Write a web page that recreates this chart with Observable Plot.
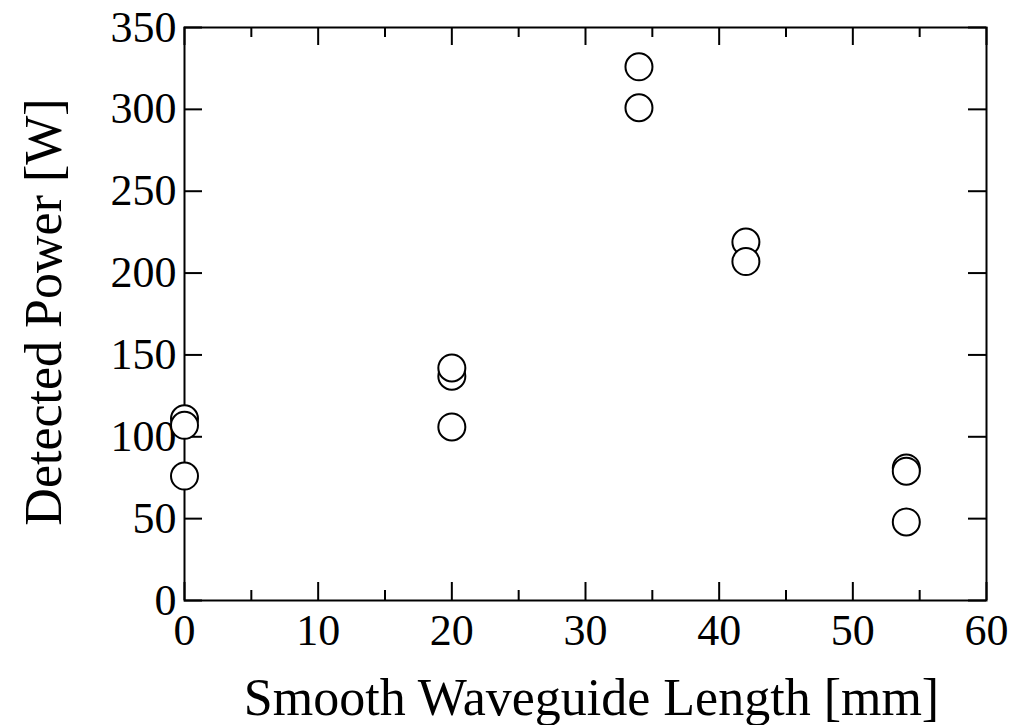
<!DOCTYPE html>
<html>
<head>
<meta charset="utf-8">
<script src="https://cdn.jsdelivr.net/npm/d3@7"></script>
<script src="https://cdn.jsdelivr.net/npm/@observablehq/plot@0.6"></script>
<style>
  html, body { margin: 0; padding: 0; background: white; }
</style>
</head>
<body>
<div id="chart"></div>
<script>
// Data
const lengthMm = [0, 0, 0, 20, 20, 20, 34, 34, 42, 42, 54, 54, 54];
const powerW   = [76, 111, 107, 106, 137, 142, 326, 301, 219, 207, 48, 81, 79];

const xMajorTicks = [0, 10, 20, 30, 40, 50, 60];
const xMinorTicks = [5, 15, 25, 35, 45, 55];
const yMajorTicks = [0, 50, 100, 150, 200, 250, 300, 350];

const xTitle = "Smooth Waveguide Length [mm]";
const yTitle = "Detected Power [W]";

const points = lengthMm.map((x, i) => ({x, y: powerW[i]}));

const W = 1015, H = 725;
const mL = 184, mR = 29, mT = 27, mB = 125;
const innerW = W - mL - mR, innerH = H - mT - mB;
const majorLen = 18, minorLen = 10;

const chart = Plot.plot({
  width: W,
  height: H,
  marginLeft: mL,
  marginRight: mR,
  marginTop: mT,
  marginBottom: mB,
  x: {domain: [0, 60]},
  y: {domain: [0, 350]},
  style: {fontFamily: "'Liberation Serif', 'Times New Roman', serif", background: "white", color: "black"},
  marks: [
    // bottom ticks (inward)
    Plot.tickX(xMajorTicks, {x: d => d, insetTop: innerH - majorLen, stroke: "black", strokeWidth: 2}),
    Plot.tickX(xMinorTicks, {x: d => d, insetTop: innerH - minorLen, stroke: "black", strokeWidth: 2}),
    // top ticks (inward)
    Plot.tickX(xMajorTicks, {x: d => d, insetBottom: innerH - majorLen, stroke: "black", strokeWidth: 2}),
    Plot.tickX(xMinorTicks, {x: d => d, insetBottom: innerH - minorLen, stroke: "black", strokeWidth: 2}),
    // left & right ticks (inward)
    Plot.tickY(yMajorTicks, {y: d => d, insetRight: innerW - majorLen, stroke: "black", strokeWidth: 2}),
    Plot.tickY(yMajorTicks, {y: d => d, insetLeft: innerW - majorLen, stroke: "black", strokeWidth: 2}),
    Plot.frame({stroke: "black", strokeWidth: 2}),
    Plot.axisX({ticks: xMajorTicks, tickSize: 0, tickPadding: 13, fontSize: 44, label: null, tickFormat: d => String(d)}),
    Plot.axisY({ticks: yMajorTicks, tickSize: 0, tickPadding: 8, fontSize: 44, label: null, tickFormat: d => String(d)}),
    Plot.dot(points, {x: "x", y: "y", r: 13.5, fill: "white", stroke: "black", strokeWidth: 2}),
    Plot.text([xTitle], {frameAnchor: "bottom", dy: 114, dx: 6, lineAnchor: "bottom", textAnchor: "middle", fontSize: 52, fill: "black"}),
    Plot.text([yTitle], {frameAnchor: "left", dx: -124, dy: -2, rotate: -90, lineAnchor: "bottom", textAnchor: "middle", fontSize: 52, fill: "black"})
  ]
});

document.getElementById("chart").appendChild(chart);
</script>
</body>
</html>
